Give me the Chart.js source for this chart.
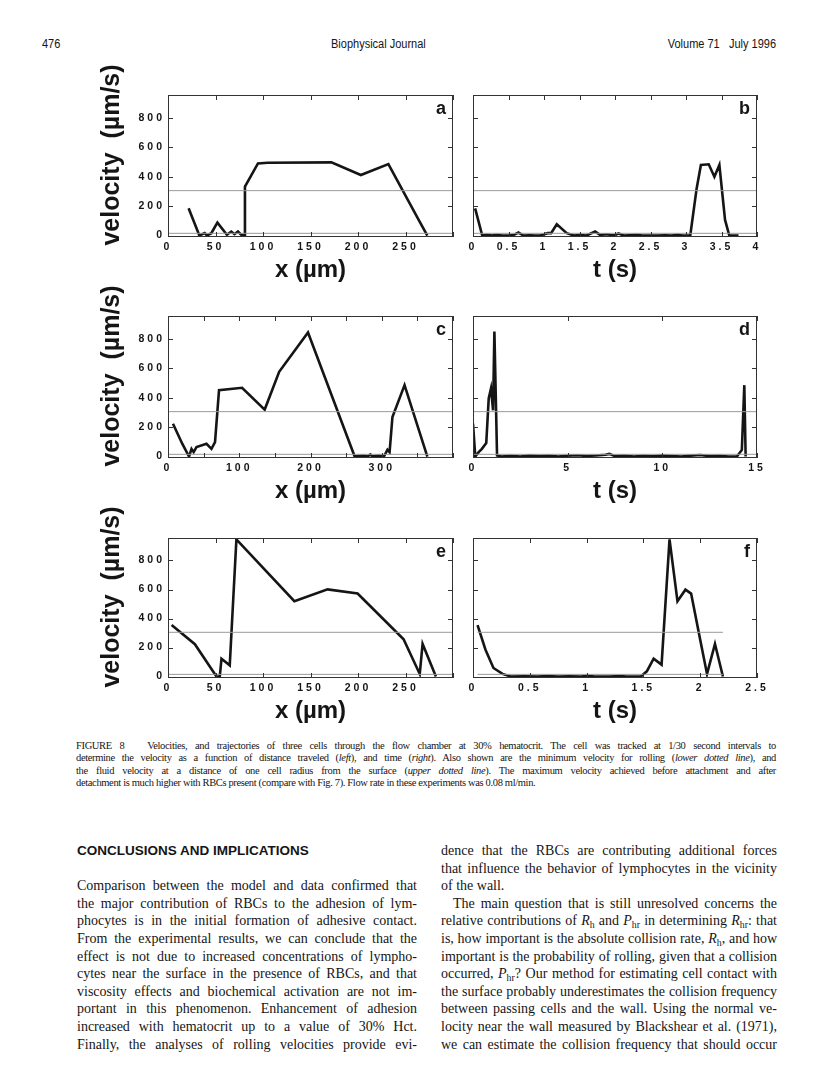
<!DOCTYPE html>
<html>
<head>
<meta charset="utf-8">
<script src="https://cdn.jsdelivr.net/npm/chart.js@4/dist/chart.umd.min.js"></script>
<style>
body { margin: 0; background: #fff; width: 816px; height: 1078px; position: relative; overflow: hidden; color: #151515; font-family: "Liberation Serif", serif; }
.hdr { position: absolute; top: 37px; font-family: "Liberation Sans", Arial, sans-serif; font-size: 12.5px; white-space: nowrap; transform: scaleX(0.88); transform-origin: left top; }
.hdr.r { transform-origin: right top; }
.panel { position: absolute; }
.cap { position: absolute; left: 76px; width: 700px; top: 740px; font-size: 10.5px; line-height: 12.3px; letter-spacing: -0.35px; }
.cap div, .col div { white-space: nowrap; text-align: justify; text-align-last: justify; }
.cap div.last, .col div.last { text-align-last: left; }
.col { position: absolute; top: 842px; font-size: 14px; line-height: 17.6px; }
.col h3 { margin: 0 0 17.6px 0; font: bold 13.5px "Liberation Sans", sans-serif; line-height: 17.6px; }
.ind { padding-left: 12px; }
sub { font-size: 70%; line-height: 0; vertical-align: -0.3em; }
</style>
</head>
<body>
<div class="hdr" style="left:42px">476</div>
<div class="hdr" style="left:331px">Biophysical Journal</div>
<div class="hdr r" style="right:40px">Volume 71&nbsp;&nbsp; July 1996</div>

<div class="panel" style="left:90px;top:55px"><canvas id="pa" width="380" height="235"></canvas></div>
<div class="panel" style="left:465px;top:55px"><canvas id="pb" width="320" height="235"></canvas></div>
<div class="panel" style="left:90px;top:276px"><canvas id="pc" width="380" height="235"></canvas></div>
<div class="panel" style="left:465px;top:276px"><canvas id="pd" width="320" height="235"></canvas></div>
<div class="panel" style="left:90px;top:498px"><canvas id="pe" width="380" height="233"></canvas></div>
<div class="panel" style="left:465px;top:498px"><canvas id="pf" width="320" height="233"></canvas></div>

<div class="cap">
<div>FIGURE 8&nbsp;&nbsp; Velocities, and trajectories of three cells through the flow chamber at 30% hematocrit. The cell was tracked at 1/30 second intervals to</div>
<div>determine the velocity as a function of distance traveled (<i>left</i>), and time (<i>right</i>). Also shown are the minimum velocity for rolling (<i>lower dotted line</i>), and</div>
<div>the fluid velocity at a distance of one cell radius from the surface (<i>upper dotted line</i>). The maximum velocity achieved before attachment and after</div>
<div class="last">detachment is much higher with RBCs present (compare with Fig. 7). Flow rate in these experiments was 0.08 ml/min.</div>
</div>

<div class="col" style="left:77px;width:340px">
<h3>CONCLUSIONS AND IMPLICATIONS</h3>
<div>Comparison between the model and data confirmed that</div>
<div>the major contribution of RBCs to the adhesion of lym-</div>
<div>phocytes is in the initial formation of adhesive contact.</div>
<div>From the experimental results, we can conclude that the</div>
<div>effect is not due to increased concentrations of lympho-</div>
<div>cytes near the surface in the presence of RBCs, and that</div>
<div>viscosity effects and biochemical activation are not im-</div>
<div>portant in this phenomenon. Enhancement of adhesion</div>
<div>increased with hematocrit up to a value of 30% Hct.</div>
<div>Finally, the analyses of rolling velocities provide evi-</div>
</div>

<div class="col" style="left:441px;width:336px">
<div>dence that the RBCs are contributing additional forces</div>
<div>that influence the behavior of lymphocytes in the vicinity</div>
<div class="last">of the wall.</div>
<div class="ind">The main question that is still unresolved concerns the</div>
<div>relative contributions of <i>R</i><sub>h</sub> and <i>P</i><sub>hr</sub> in determining <i>R</i><sub>hr</sub>: that</div>
<div>is, how important is the absolute collision rate, <i>R</i><sub>h</sub>, and how</div>
<div>important is the probability of rolling, given that a collision</div>
<div>occurred, <i>P</i><sub>hr</sub>? Our method for estimating cell contact with</div>
<div>the surface probably underestimates the collision frequency</div>
<div>between passing cells and the wall. Using the normal ve-</div>
<div>locity near the wall measured by Blackshear et al. (1971),</div>
<div>we can estimate the collision frequency that should occur</div>
</div>

<script>
// values (velocity in um/s)
const upperLine = 305;   // fluid velocity one cell radius from wall
const lowerLine = 15;    // min velocity for rolling

const aX = [21.7, 33, 38.6, 41, 45.6, 52, 62, 66.6, 70, 73.6, 77, 81, 81, 94.7, 105, 172, 203, 232, 263, 273];
const aV = [185, 0, 16, 0, 16, 88, 5, 27, 9, 27, 5, 5, 332, 490, 495, 497, 411, 486, 117, 0];

const bT = [0.03, 0.13, 0.2, 0.27, 0.33, 0.41, 0.5, 0.57, 0.64, 0.71, 0.8, 0.88, 0.95, 1.05, 1.1, 1.18, 1.32, 1.42, 1.5, 1.6, 1.72, 1.79, 1.89, 1.98, 2.05, 2.12, 2.2, 2.31, 2.38, 2.5, 2.6, 2.7, 2.8, 2.88, 2.95, 3.06, 3.15, 3.21, 3.32, 3.4, 3.47, 3.55, 3.61, 3.74];
const bV = [185, 0, 5, 0, 5, 0, 0, 3, 20, 0, 2, 0, 0, 16, 16, 77, 16, 0, 3, 0, 27, 5, 9, 0, 14, 0, 2, 5, 0, 0, 0, 2, 0, 5, 0, 0, 320, 480, 484, 400, 480, 106, 0, 0];

const cX = [7, 20, 29.5, 33, 36, 40, 54, 61, 66, 71.6, 104, 135.7, 156, 196.5, 262, 270, 275, 280, 284, 287, 292, 296, 303, 308, 311, 315, 332, 364];
const cV = [223, 87, 0, 52, 30, 64, 87, 52, 98, 451, 467, 319, 576, 843, 0, 5, 7, 0, 14, 0, 5, 7, 0, 46, 30, 269, 485, 0];

const dT = [0, 0.12, 0.3, 0.47, 0.7, 0.83, 0.95, 1.06, 1.13, 1.27, 1.5, 2, 2.5, 3, 3.5, 4, 4.5, 5, 5.5, 6, 6.5, 7, 7.2, 7.5, 8, 8.5, 9, 9.5, 10, 10.5, 11, 11.5, 12, 12.5, 13, 13.5, 13.94, 14.2, 14.33, 14.4];
const dV = [223, 0, 30, 52, 91, 394, 462, 314, 850, 7, 0, 5, 0, 8, 3, 6, 0, 5, 9, 4, 7, 12, 18, 3, 6, 0, 5, 2, 8, 4, 0, 6, 10, 3, 5, 0, 0, 45, 485, 0];

const eX = [3.8, 28.3, 51, 54.5, 56.3, 65, 72, 133, 168, 199.6, 248, 265, 268, 282];
const eV = [355, 223, 0, 0, 123, 77, 945, 519, 601, 572, 257, 18, 225, 0];

const fT = [0.04, 0.11, 0.18, 0.26, 0.33, 0.45, 0.57, 0.65, 0.75, 0.85, 0.95, 1.01, 1.07, 1.2, 1.3, 1.35, 1.4, 1.48, 1.53, 1.59, 1.66, 1.73, 1.8, 1.87, 1.92, 2.0, 2.06, 2.13, 2.2];
const fV = [355, 185, 59, 18, 0, 2, 0, 3, 0, 2, 0, 5, 0, 0, 3, 0, 0, 2, 36, 123, 82, 945, 519, 599, 572, 253, 18, 225, 0];

const yLabels = [0, 200, 400, 600, 800];
const yTitle = 'velocity  (µm/s)';

const panels = [
    {id: 'pa', letter: 'a', xs: aX, vs: aV, refX: [0, 300], xMax: 300, xStep: 50, xLabels: [0, 50, 100, 150, 200, 250], left: true, xTitle: 'x (µm)'},
    {id: 'pb', letter: 'b', xs: bT, vs: bV, refX: [0, 4], xMax: 4, xStep: 0.5, xLabels: [0, 0.5, 1, 1.5, 2, 2.5, 3, 3.5, 4], left: false, xTitle: 't (s)'},
    {id: 'pc', letter: 'c', xs: cX, vs: cV, refX: [0, 400], xMax: 400, xStep: 50, xLabels: [0, 100, 200, 300], left: true, xTitle: 'x (µm)'},
    {id: 'pd', letter: 'd', xs: dT, vs: dV, refX: [0, 15], xMax: 15, xStep: 5, xLabels: [0, 5, 10, 15], left: false, xTitle: 't (s)'},
    {id: 'pe', letter: 'e', xs: eX, vs: eV, refX: [0, 300], xMax: 300, xStep: 50, xLabels: [0, 50, 100, 150, 200, 250], left: true, xTitle: 'x (µm)'},
    {id: 'pf', letter: 'f', xs: fT, vs: fV, refX: [0.04, 2.2], xMax: 2.5, xStep: 0.5, xLabels: [0, 0.5, 1, 1.5, 2, 2.5], left: false, xTitle: 't (s)'}
];

const ink = '#151515';
const sans = '"Liberation Sans", Arial, sans-serif';

// frame, inward tick marks, panel letter and the rotated y title
const framePlugin = {
    id: 'frame',
    afterDatasetsDraw(chart, args, opts) {
        const {ctx, chartArea: a, scales: {x, y}} = chart;
        ctx.save();
        ctx.strokeStyle = '#333';
        ctx.lineWidth = 1;
        ctx.strokeRect(a.left + 0.5, a.top + 0.5, a.width - 1, a.height - 1);
        ctx.beginPath();
        x.ticks.forEach(t => {
            const px = Math.round(x.getPixelForValue(t.value)) + 0.5;
            ctx.moveTo(px, a.top); ctx.lineTo(px, a.top + 5);
            ctx.moveTo(px, a.bottom); ctx.lineTo(px, a.bottom - 5);
        });
        y.ticks.forEach(t => {
            const py = Math.round(y.getPixelForValue(t.value)) + 0.5;
            ctx.moveTo(a.left, py); ctx.lineTo(a.left + 5, py);
            ctx.moveTo(a.right, py); ctx.lineTo(a.right - 5, py);
        });
        ctx.stroke();
        ctx.fillStyle = ink;
        ctx.font = 'bold 18px ' + sans;
        ctx.textAlign = 'right';
        ctx.textBaseline = 'top';
        ctx.fillText(opts.letter, a.right - 7, a.top + 5);
        if (opts.yTitle) {
            ctx.translate(22, (a.top + a.bottom) / 2 - 11);
            ctx.rotate(-Math.PI / 2);
            ctx.textAlign = 'center';
            ctx.textBaseline = 'middle';
            ctx.font = 'bold 25px ' + sans;
            ctx.fillText(opts.yTitle, 0, 0);
        }
        ctx.restore();
    }
};

// the tick numbers on the original are widely letter-spaced
const spacedLabels = {
    id: 'spacedLabels',
    afterUpdate(chart) {
        Object.values(chart.scales).forEach(s => {
            const orig = Object.getPrototypeOf(s).drawLabels;
            s.drawLabels = function (area) {
                this.ctx.save();
                this.ctx.letterSpacing = '3px';
                orig.call(this, area);
                this.ctx.restore();
            };
        });
    }
};

panels.forEach(p => {
    new Chart(document.getElementById(p.id), {
        type: 'line',
        data: {
            datasets: [
                {data: p.refX.map(x => ({x: x, y: upperLine})), borderColor: '#9a9a9a', borderWidth: 1, pointRadius: 0},
                {data: p.refX.map(x => ({x: x, y: lowerLine})), borderColor: '#9a9a9a', borderWidth: 1, pointRadius: 0},
                {data: p.xs.map((x, i) => ({x: x, y: p.vs[i]})), borderColor: ink, borderWidth: 2.6, pointRadius: 0, borderJoinStyle: 'miter'}
            ]
        },
        options: {
            responsive: false,
            animation: false,
            layout: {padding: {top: 40, right: p.left ? 17 : 28, left: 0, bottom: 0}},
            plugins: {
                legend: {display: false},
                tooltip: {enabled: false},
                frame: {letter: p.letter, yTitle: p.left ? yTitle : ''}
            },
            scales: {
                x: {
                    type: 'linear', min: 0, max: p.xMax,
                    grid: {display: false, drawTicks: false},
                    border: {display: false},
                    ticks: {
                        stepSize: p.xStep, autoSkip: false, maxRotation: 0, padding: 4, color: ink,
                        font: {family: sans, size: 10.5, weight: 'bold'},
                        callback: v => p.xLabels.includes(v) ? String(v) : ''
                    },
                    title: {display: true, text: p.xTitle, color: ink, font: {family: sans, size: 24, weight: 'bold'}, padding: {top: 0, bottom: 5}},
                    afterFit: s => { s.height = 53; }
                },
                y: {
                    type: 'linear', min: -10, max: 955,
                    grid: {display: false, drawTicks: false},
                    border: {display: false},
                    afterBuildTicks: s => { s.ticks = yLabels.map(v => ({value: v})); },
                    ticks: {
                        autoSkip: false, display: p.left, padding: 3, color: ink,
                        font: {family: sans, size: 10.5, weight: 'bold'},
                        callback: v => String(v)
                    },
                    title: {display: false},
                    afterFit: s => { s.width = p.left ? 78 : 8; }
                }
            }
        },
        plugins: [framePlugin, spacedLabels]
    });
});
</script>
</body>
</html>
